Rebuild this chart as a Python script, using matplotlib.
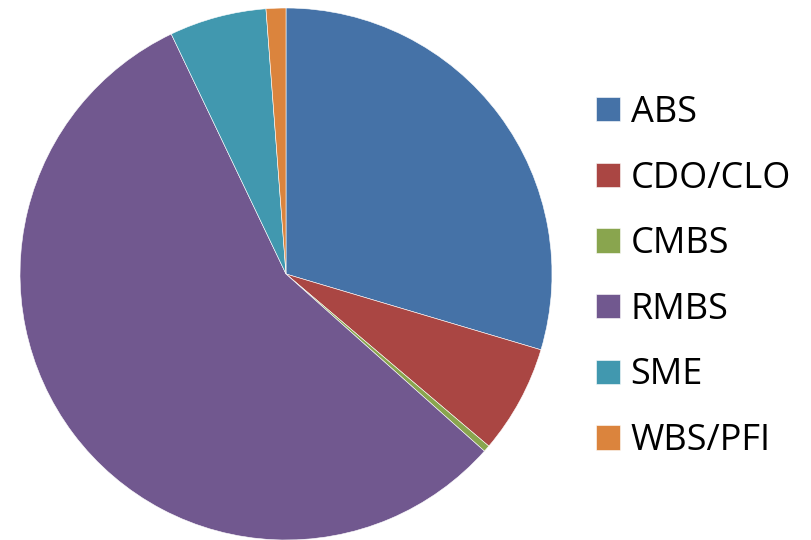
import matplotlib.pyplot as plt

# share of issuance by collateral type (%)
labels = ['ABS', 'CDO/CLO', 'CMBS', 'RMBS', 'SME', 'WBS/PFI']
shares = [29.6, 6.6, 0.4, 56.3, 5.9, 1.2]
colors = ['#4572A7', '#AA4643', '#89A54E', '#71588F', '#4198AF', '#DB843D']

plt.rcParams['font.family'] = ['Open Sans', 'DejaVu Sans']

fig = plt.figure(figsize=(8.11, 5.40), dpi=100)
ax = fig.add_axes([20 / 811, 0 / 540, 532 / 811, 532 / 540])

wedges, _ = ax.pie(shares, colors=colors, startangle=90, counterclock=False,
                   wedgeprops=dict(edgecolor='white', linewidth=0.4))
ax.set_xlim(-1, 1)
ax.set_ylim(-1, 1)
ax.set_aspect('equal')

leg = fig.legend(wedges, labels, loc='center left', bbox_to_anchor=(596 / 811, 0.487),
                 frameon=False, fontsize=26, handlelength=0.66, handleheight=0.66,
                 handletextpad=0.3, labelspacing=0.82, borderaxespad=0, borderpad=0)

fig.savefig('out.png', dpi=100)
